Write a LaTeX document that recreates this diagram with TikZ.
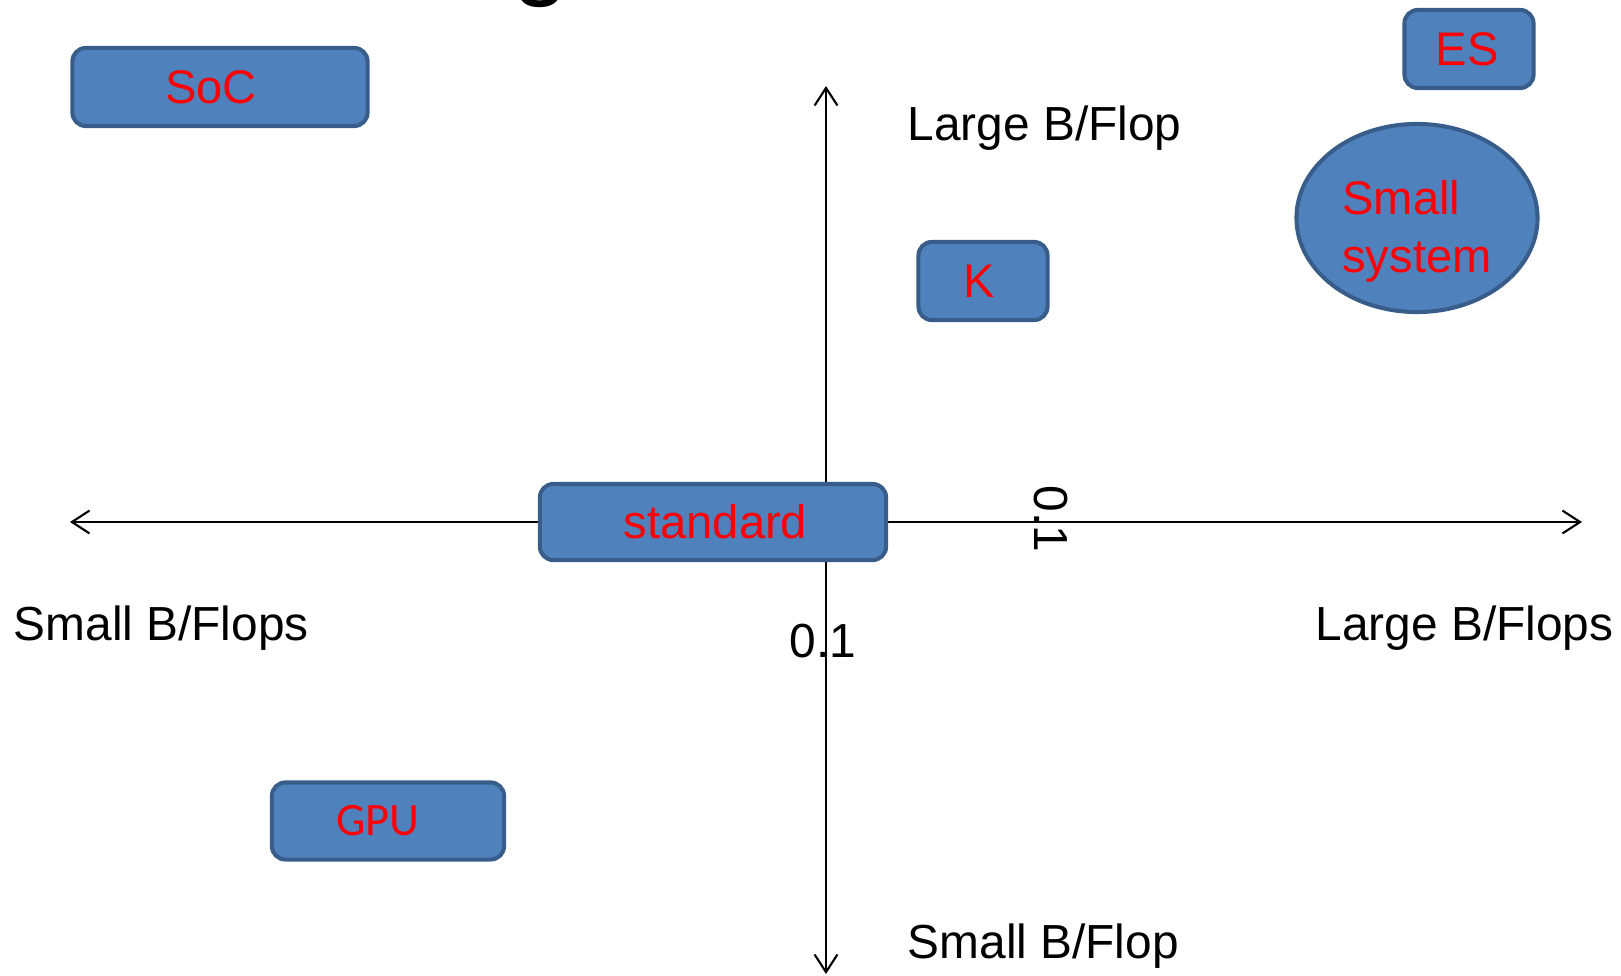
\documentclass[tikz,border=0pt]{standalone}
\usepackage{fontspec}
\setmainfont{Liberation Sans}
\newfontfamily\calibrifont{Carlito}
\usetikzlibrary{arrows.meta, positioning, shapes.geometric}
\definecolor{boxfill}{HTML}{4F81BD}
\definecolor{boxedge}{HTML}{385D8A}

\begin{document}
\begin{tikzpicture}[x=0.01cm, y=-0.01cm,
    axis/.style={line width=0.6pt, {Straight Barb[length=5pt, width=6.5pt]}-{Straight Barb[length=5pt, width=6.5pt]}},
    sysbox/.style={draw=boxedge, line width=1.15pt, fill=boxfill, rounded corners=3.8pt,
        inner sep=0pt, text=red, font=\fontsize{13.4}{14.5}\selectfont},
    lbl/.style={inner sep=0pt, anchor=base west, font=\fontsize{13.6}{16}\selectfont}]
    % Frame
    \useasboundingbox (0,0) rectangle (1621,976);
    \clip (0,0) rectangle (1621,976);

    % Tail of the title above
    \node[inner sep=0pt, anchor=base, font=\fontsize{29}{30}\selectfont] (title) at (541,-13) {g};

    % Axes
    \coordinate (west) at (70,522);
    \coordinate (east) at (1582,522);
    \coordinate (north) at (826,86);
    \coordinate (south) at (826,974);
    \draw[axis] (west) -- (east);
    \draw[axis] (north) -- (south);

    % Axis labels
    \node[lbl] (bfhigh) at (907,141) {Large B/Flop};
    \node[lbl] (bflow) at (907,958) {Small B/Flop};
    \node[lbl] (bfsleft) at (13,640) {Small B/Flops};
    \node[lbl] (bfsright) at (1315,640) {Large B/Flops};
    \node[lbl] (tickx) at (789,657) {0.1};
    \node[lbl, rotate=-90] (ticky) at (1034,485) {0.1};

    % Systems (sizes in cm, 1cm = 100 units)
    \node[sysbox, minimum width=2.95cm, minimum height=0.78cm] (soc) at (220,87) {SoC\hspace*{0.18cm}};
    \node[sysbox, minimum width=1.29cm, minimum height=0.78cm] (es) at (1469,49) {ES\hspace*{0.04cm}};
    \node[sysbox, minimum width=1.29cm, minimum height=0.78cm] (k) at (983,281) {K\hspace*{0.08cm}};
    \node[sysbox, minimum width=3.46cm, minimum height=0.76cm] (standard) at (713,522) {\hspace*{0.05cm}standard};
    \node[sysbox, minimum width=2.32cm, minimum height=0.77cm, font=\calibrifont\fontsize{13.2}{15}\selectfont] (gpu) at (388,821) {GPU\hspace*{0.2cm}};
    % text sits a little low in the ellipse
    \node[sysbox, ellipse, rounded corners=0pt, minimum width=2.41cm, minimum height=1.88cm,
        font=\fontsize{13.4}{16.5}\selectfont] (small) at (1417,218)
        {\raisebox{-0.14cm}[\height][\depth]{\begin{tabular}{@{}l@{}}Small\\system\end{tabular}}};
\end{tikzpicture}
\end{document}
